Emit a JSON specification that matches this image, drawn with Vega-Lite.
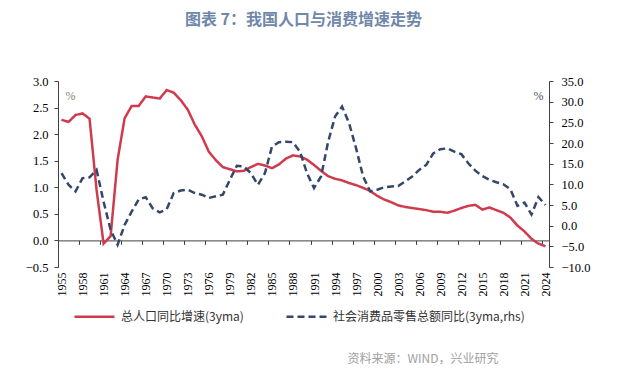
{
  "$schema": "https://vega.github.io/schema/vega-lite/v6.json",
  "width": 491,
  "height": 186,
  "autosize": "none",
  "padding": {"left": 58, "top": 81, "right": 91, "bottom": 109},
  "background": "white",
  "title": {
    "text": "图表 7：我国人口与消费增速走势",
    "font": "Noto Sans CJK SC",
    "fontSize": 16,
    "fontWeight": "bold",
    "color": "#6f87aa",
    "anchor": "middle",
    "offset": 47
  },
  "data": {
    "values": [
      {"year": 1955, "pop": 2.27, "retail": 12.7},
      {"year": 1956, "pop": 2.23, "retail": 9.9},
      {"year": 1957, "pop": 2.36, "retail": 8.3},
      {"year": 1958, "pop": 2.39, "retail": 11.5},
      {"year": 1959, "pop": 2.29, "retail": 11.7},
      {"year": 1960, "pop": 0.95, "retail": 13.5},
      {"year": 1961, "pop": -0.06, "retail": 5.8},
      {"year": 1962, "pop": 0.08, "retail": -1.0},
      {"year": 1963, "pop": 1.52, "retail": -4.6},
      {"year": 1964, "pop": 2.3, "retail": 0.2},
      {"year": 1965, "pop": 2.53, "retail": 3.4},
      {"year": 1966, "pop": 2.53, "retail": 6.3},
      {"year": 1967, "pop": 2.71, "retail": 6.9},
      {"year": 1968, "pop": 2.69, "retail": 4.2},
      {"year": 1969, "pop": 2.67, "retail": 3.2},
      {"year": 1970, "pop": 2.83, "retail": 4.0},
      {"year": 1971, "pop": 2.78, "retail": 7.9},
      {"year": 1972, "pop": 2.64, "retail": 8.5},
      {"year": 1973, "pop": 2.46, "retail": 8.7},
      {"year": 1974, "pop": 2.18, "retail": 7.9},
      {"year": 1975, "pop": 1.96, "retail": 7.5},
      {"year": 1976, "pop": 1.67, "retail": 6.7},
      {"year": 1977, "pop": 1.51, "retail": 7.1},
      {"year": 1978, "pop": 1.38, "retail": 7.5},
      {"year": 1979, "pop": 1.34, "retail": 11.1},
      {"year": 1980, "pop": 1.3, "retail": 14.5},
      {"year": 1981, "pop": 1.31, "retail": 14.3},
      {"year": 1982, "pop": 1.38, "retail": 12.7},
      {"year": 1983, "pop": 1.44, "retail": 9.9},
      {"year": 1984, "pop": 1.41, "retail": 12.7},
      {"year": 1985, "pop": 1.36, "retail": 19.1},
      {"year": 1986, "pop": 1.43, "retail": 20.2},
      {"year": 1987, "pop": 1.54, "retail": 20.3},
      {"year": 1988, "pop": 1.6, "retail": 20.2},
      {"year": 1989, "pop": 1.58, "retail": 17.9},
      {"year": 1990, "pop": 1.52, "retail": 12.7},
      {"year": 1991, "pop": 1.42, "retail": 9.1},
      {"year": 1992, "pop": 1.31, "retail": 11.9},
      {"year": 1993, "pop": 1.21, "retail": 20.2},
      {"year": 1994, "pop": 1.16, "retail": 26.4},
      {"year": 1995, "pop": 1.13, "retail": 28.8},
      {"year": 1996, "pop": 1.08, "retail": 24.8},
      {"year": 1997, "pop": 1.04, "retail": 18.7},
      {"year": 1998, "pop": 0.99, "retail": 11.9},
      {"year": 1999, "pop": 0.93, "retail": 8.3},
      {"year": 2000, "pop": 0.84, "retail": 8.7},
      {"year": 2001, "pop": 0.77, "retail": 9.3},
      {"year": 2002, "pop": 0.72, "retail": 9.5},
      {"year": 2003, "pop": 0.66, "retail": 9.6},
      {"year": 2004, "pop": 0.63, "retail": 10.7},
      {"year": 2005, "pop": 0.61, "retail": 11.9},
      {"year": 2006, "pop": 0.59, "retail": 13.5},
      {"year": 2007, "pop": 0.57, "retail": 14.7},
      {"year": 2008, "pop": 0.54, "retail": 17.5},
      {"year": 2009, "pop": 0.54, "retail": 18.5},
      {"year": 2010, "pop": 0.52, "retail": 18.7},
      {"year": 2011, "pop": 0.56, "retail": 17.9},
      {"year": 2012, "pop": 0.61, "retail": 17.3},
      {"year": 2013, "pop": 0.65, "retail": 15.1},
      {"year": 2014, "pop": 0.67, "retail": 13.3},
      {"year": 2015, "pop": 0.58, "retail": 12.0},
      {"year": 2016, "pop": 0.62, "retail": 11.1},
      {"year": 2017, "pop": 0.57, "retail": 10.5},
      {"year": 2018, "pop": 0.52, "retail": 10.0},
      {"year": 2019, "pop": 0.43, "retail": 8.8},
      {"year": 2020, "pop": 0.28, "retail": 4.8},
      {"year": 2021, "pop": 0.17, "retail": 5.6},
      {"year": 2022, "pop": 0.03, "retail": 2.7},
      {"year": 2023, "pop": -0.06, "retail": 6.9},
      {"year": 2024, "pop": -0.11, "retail": 5.0}
    ]
  },
  "config": {
    "view": {"stroke": null},
    "axis": {
      "grid": false,
      "labelFont": "Liberation Serif, Times New Roman, serif",
      "labelFontSize": 12,
      "labelColor": "#000000",
      "domainColor": "#404040",
      "tickColor": "#404040",
      "domainWidth": 1,
      "tickSize": 4
    }
  },
  "layer": [
    {
      "mark": {"type": "line", "strokeWidth": 2.5, "strokeCap": "butt"},
      "encoding": {
        "x": {
          "field": "year",
          "type": "quantitative",
          "scale": {"domain": [1954.5, 2024.5], "nice": false, "zero": false},
          "axis": {
            "orient": "bottom",
            "values": [1955, 1958, 1961, 1964, 1967, 1970, 1973, 1976, 1979, 1982, 1985, 1988, 1991, 1994, 1997, 2000, 2003, 2006, 2009, 2012, 2015, 2018, 2021, 2024],
            "format": "d",
            "labelAngle": -90,
            "labelPadding": 5,
            "labelFont": "Liberation Serif, Times New Roman, serif",
            "labelFontSize": 12,
            "domain": false,
            "ticks": false,
            "title": "资料来源：WIND，兴业研究",
            "titleFont": "Noto Sans CJK SC",
            "titleFontSize": 12,
            "titleFontWeight": "normal",
            "titleColor": "#a0a0a0",
            "titleAnchor": null,
            "titleAlign": "right",
            "titleBaseline": "middle",
            "titleX": 440,
            "titleY": 91
          }
        },
        "y": {
          "field": "pop",
          "type": "quantitative",
          "scale": {"domain": [-0.5, 3.0], "nice": false, "zero": false},
          "axis": {
            "orient": "left",
            "values": [-0.5, 0, 0.5, 1.0, 1.5, 2.0, 2.5, 3.0],
            "format": ".1f",
            "labelPadding": 6,
            "labelFont": "Liberation Serif, Times New Roman, serif",
            "labelFontSize": 12.5,
            "title": "%",
            "titleAngle": 0,
            "titleFont": "Liberation Serif, Times New Roman, serif",
            "titleFontSize": 12,
            "titleFontWeight": "normal",
            "titleColor": "#8c8070",
            "titleX": 12,
            "titleY": 14,
            "titleAlign": "center",
            "titleBaseline": "middle"
          }
        },
        "color": {
          "datum": "总人口同比增速(3yma)",
          "type": "nominal",
          "scale": {"domain": ["总人口同比增速(3yma)", "社会消费品零售总额同比(3yma,rhs)"], "range": ["#d13a4c", "#34476b"]},
          "legend": {
            "title": null,
            "orient": "none",
            "legendX": 15,
            "legendY": 214,
            "direction": "horizontal",
            "symbolType": "stroke",
            "symbolSize": 1600,
            "symbolStrokeWidth": 2.5,
            "labelFont": "Noto Sans CJK SC",
            "labelFontSize": 12,
            "labelColor": "#333333",
            "labelOffset": 5,
            "columnPadding": 37,
            "labelLimit": 400
          }
        },
        "strokeDash": {
          "datum": "总人口同比增速(3yma)",
          "type": "nominal",
          "scale": {"domain": ["总人口同比增速(3yma)", "社会消费品零售总额同比(3yma,rhs)"], "range": [[1, 0], [7, 4]]}
        }
      }
    },
    {
      "mark": {"type": "line", "strokeWidth": 2.5, "strokeCap": "butt"},
      "encoding": {
        "x": {
          "field": "year",
          "type": "quantitative",
          "axis": {
            "orient": "bottom",
            "offset": -26.6,
            "values": [1957.5, 1960.5, 1963.5, 1966.5, 1969.5, 1972.5, 1975.5, 1978.5, 1981.5, 1984.5, 1987.5, 1990.5, 1993.5, 1996.5, 1999.5, 2002.5, 2005.5, 2008.5, 2011.5, 2014.5, 2017.5, 2020.5, 2023.5],
            "labels": false,
            "ticks": true,
            "domain": true,
            "title": null
          }
        },
        "y": {
          "field": "retail",
          "type": "quantitative",
          "scale": {"domain": [-10, 35], "nice": false, "zero": false},
          "axis": {
            "orient": "right",
            "values": [-10, -5, 0, 5, 10, 15, 20, 25, 30, 35],
            "format": ".1f",
            "labelPadding": 8,
            "labelAlign": "left",
            "labelFont": "Liberation Serif, Times New Roman, serif",
            "labelFontSize": 12.5,
            "title": "%",
            "titleAngle": 0,
            "titleFont": "Liberation Serif, Times New Roman, serif",
            "titleFontSize": 12,
            "titleFontWeight": "normal",
            "titleColor": "#4a5468",
            "titleX": -11,
            "titleY": 14,
            "titleAlign": "center",
            "titleBaseline": "middle"
          }
        },
        "color": {
          "datum": "社会消费品零售总额同比(3yma,rhs)",
          "type": "nominal"
        },
        "strokeDash": {
          "datum": "社会消费品零售总额同比(3yma,rhs)",
          "type": "nominal"
        }
      }
    }
  ],
  "resolve": {"scale": {"y": "independent"}, "axis": {"x": "independent", "y": "independent"}}
}
